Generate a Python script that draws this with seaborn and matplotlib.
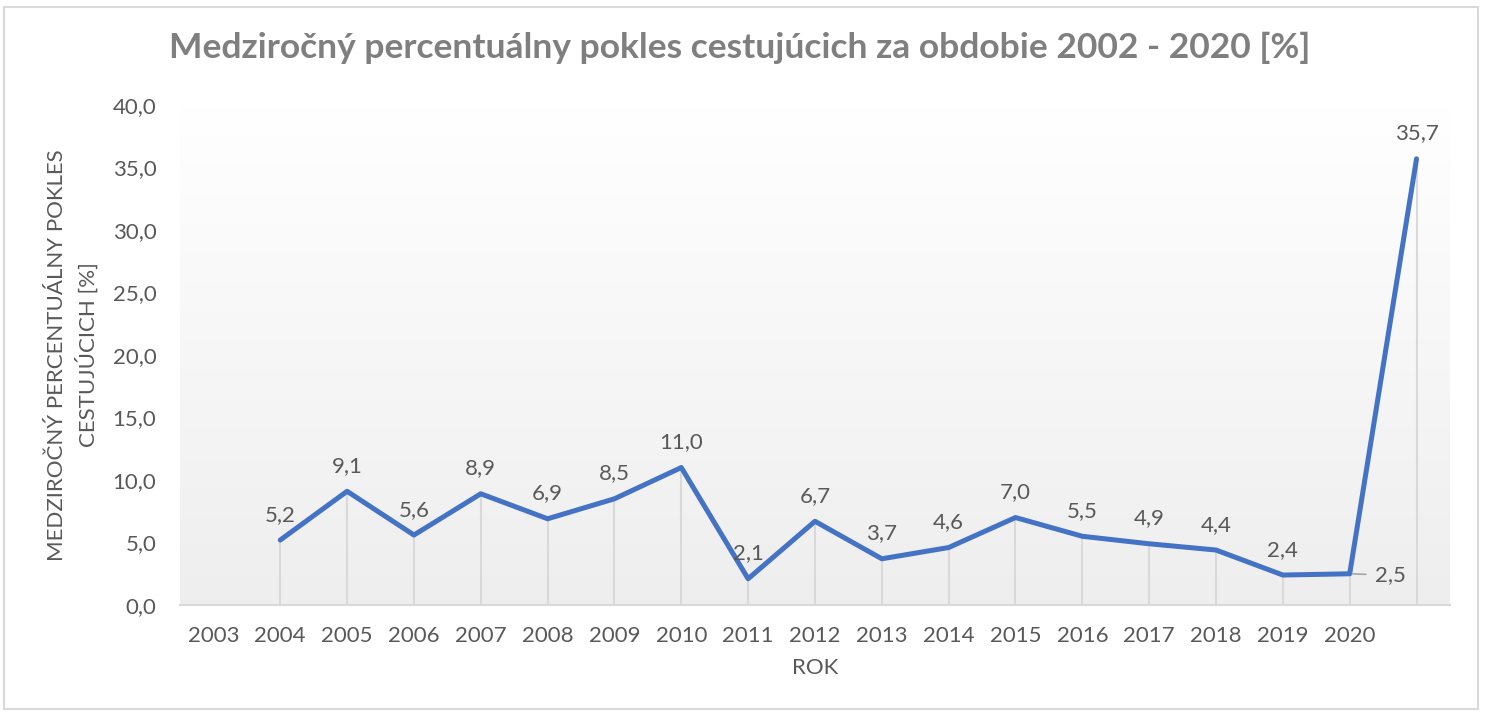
import numpy as np
import matplotlib
matplotlib.use('Agg')
import matplotlib.pyplot as plt
import pandas as pd
import seaborn as sns
from matplotlib.patches import Rectangle

# Data (last category has no label in the original).
years = ['2003', '2004', '2005', '2006', '2007', '2008', '2009', '2010', '2011', '2012',
         '2013', '2014', '2015', '2016', '2017', '2018', '2019', '2020', '']
decline = [np.nan, 5.2, 9.1, 5.6, 8.9, 6.9, 8.5, 11.0, 2.1, 6.7,
           3.7, 4.6, 7.0, 5.5, 4.9, 4.4, 2.4, 2.5, 35.7]

title = 'Medziročný percentuálny pokles cestujúcich za obdobie 2002 - 2020 [%]'
ylabel = 'MEDZIROČNÝ PERCENTUÁLNY POKLES\nCESTUJÚCICH [%]'
xlabel = 'ROK'

sns.set_theme(style='white')
plt.rcParams['font.family'] = ['Lato', 'DejaVu Sans']

df = pd.DataFrame({'pos': range(len(years)), 'rok': years, 'pokles': decline})

fig = plt.figure(figsize=(14.85, 7.15), dpi=100)
fig.patches.append(Rectangle((0.003, 0.008), 0.992, 0.982, transform=fig.transFigure,
                             fill=False, edgecolor='#d9d9d9', linewidth=1.5))
ax = fig.add_axes([0.1212, 0.1538, 0.8552, 0.6993])

# Gradient background of the plot area (white at top, light gray at bottom).
grad = np.linspace(1.0, 0.0, 256).reshape(-1, 1)
ax.imshow(grad, extent=[0, 1, 0, 1], transform=ax.transAxes, aspect='auto',
          cmap=matplotlib.colors.LinearSegmentedColormap.from_list('g', ['#eeeeee', '#ffffff']),
          zorder=0)

# Drop lines
valid = df.dropna()
ax.vlines(valid['pos'], 0, valid['pokles'], color='#d9d9d9', linewidth=1.5, zorder=1)

sns.lineplot(data=df, x='pos', y='pokles', ax=ax, color='#4472C4', linewidth=3.6,
             zorder=3, sort=False)

for _, r in valid.iterrows():
    txt = f"{r['pokles']:.1f}".replace('.', ',')
    if r['rok'] == '2020':
        ax.annotate(txt, (r['pos'], r['pokles']), xytext=(18, -1), textcoords='offset points',
                    ha='left', va='center', fontsize=16, color='#595959',
                    arrowprops=dict(arrowstyle='-', color='#a6a6a6', lw=1.2,
                                    shrinkA=4, shrinkB=2))
    else:
        ax.annotate(txt, (r['pos'], r['pokles']), xytext=(0, 11), textcoords='offset points',
                    ha='center', va='bottom', fontsize=16, color='#595959')

ax.set_xlim(-0.5, len(years) - 0.5)
ax.set_ylim(0, 40)
ax.set_xticks(df['pos'])
ax.set_xticklabels(years)
ax.set_yticks(np.arange(0, 45, 5))
ax.set_yticklabels([f'{v:.1f}'.replace('.', ',') for v in np.arange(0, 45, 5)])
ax.tick_params(axis='both', length=0, labelsize=16, labelcolor='#595959')
ax.tick_params(axis='x', pad=15)
ax.tick_params(axis='y', pad=17)

for s in ['top', 'right', 'left']:
    ax.spines[s].set_visible(False)
ax.spines['bottom'].set_color('#d9d9d9')
ax.spines['bottom'].set_linewidth(1.5)
ax.grid(False)

ax.set_xlabel(xlabel, fontsize=16, color='#595959', labelpad=9)
ax.set_ylabel(ylabel, fontsize=16, color='#595959', labelpad=10, linespacing=1.45)

fig.text(0.498, 0.933, title, ha='center', va='center', fontsize=25.5,
         fontweight='bold', color='#7f7f7f')

fig.savefig('out.png', dpi=100)
